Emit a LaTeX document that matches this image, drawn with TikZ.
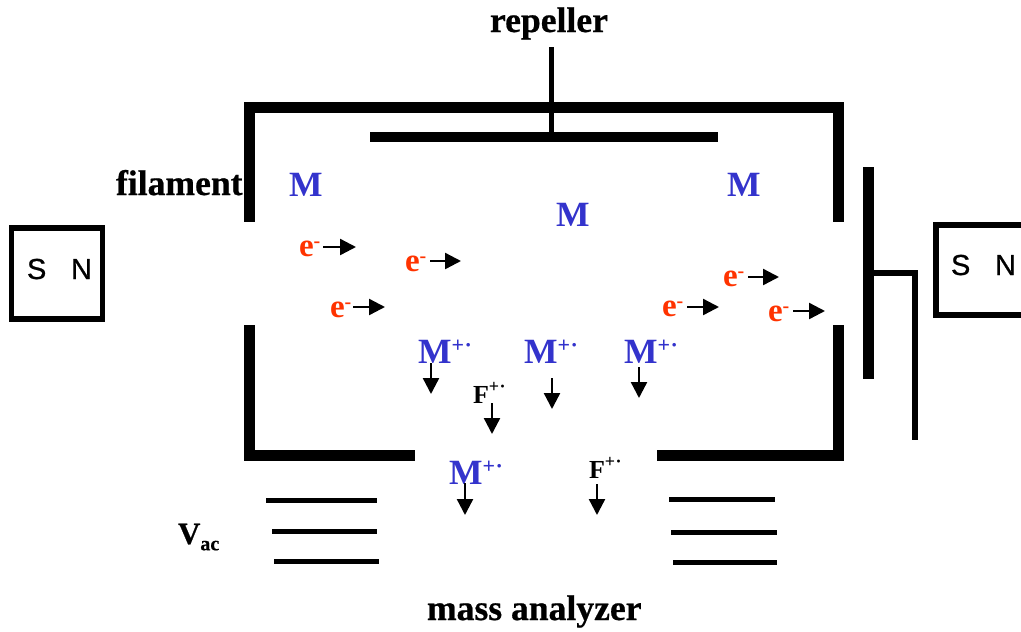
\documentclass[tikz,border=0pt]{standalone}
\usepackage{fontspec}
\setmainfont[BoldFeatures={FakeBold=0.6}]{Liberation Serif}
\newfontfamily\plainserif{Liberation Serif}
\newfontfamily\magfont[FakeBold=0.8]{Liberation Sans}
\usetikzlibrary{arrows.meta}
\definecolor{ionblue}{RGB}{51,51,204}
\definecolor{elecred}{RGB}{255,51,0}
\newcommand{\fsz}[1]{\fontsize{#1}{#1}\selectfont}
\newcommand{\ionsup}{\raisebox{0.3em}{\fsz{22}\textbf{+}\hspace{0.5pt}\raisebox{-0.02em}{\textbf{·}}}}
\newcommand{\fsup}{\raisebox{0.42em}{\fsz{18}\textbf{+}\hspace{0.5pt}\raisebox{-0.02em}{\textbf{·}}}}
\tikzset{
  x=1pt,y=-1pt,
  wall/.style={line width=11pt,line cap=butt,line join=miter},
  plate/.style={line width=5pt,line cap=butt},
  wire/.style={line width=6pt,line join=miter},
  magnet/.style={line width=5.5pt,line join=miter},
  fly/.style={line width=2.4pt,-{Triangle[length=16pt,width=16pt]}},
  txt/.style={anchor=base west,inner sep=0pt,outer sep=0pt},
  lab/.style={txt,font=\fsz{35.6}\bfseries},
  molec/.style={txt,font=\fsz{35.5}\plainserif\bfseries,text=ionblue},
  frag/.style={txt,font=\fsz{26}\plainserif\bfseries},
  elec/.style={txt,font=\fsz{33}\plainserif\bfseries,text=elecred},
  pole/.style={txt,font=\fsz{29}\magfont},
}
\begin{document}
\begin{tikzpicture}
\useasboundingbox (0,0) rectangle (1021,632);
% ionisation chamber
\draw[wall] (249,221.7) -- (249,107) -- (838.5,107) -- (838.5,221.7);
\draw[wall] (249,325) -- (249,455) -- (415,455);
\draw[wall] (657,455) -- (838.5,455) -- (838.5,325);
% repeller
\coordinate (stemtop) at (551,47);
\coordinate (stemfoot) at (551,137);
\draw[line width=10pt] (370,137) -- (718,137);
\draw[line width=5pt] (stemtop) -- (stemfoot);
% collector
\draw[line width=11pt] (868.5,167) -- (868.5,379);
\draw[wire] (874,273) -- (915,273) -- (915,440);
% magnets
\draw[magnet] (11.5,228) rectangle (102.5,319);
\draw[line width=6pt,line join=miter] (1021,224.5) -- (936,224.5) -- (936,315) -- (1021,315);
\node[pole] (s1) at (27,279) {S};
\node[pole] (n1) at (71,279) {N};
\node[pole] (s2) at (951,275) {S};
\node[pole] (n2) at (995,275) {N};
% accelerating plates
\draw[plate] (266,500) -- (377,500);
\draw[plate] (272,531) -- (377,531);
\draw[plate] (274,561) -- (379,561);
\draw[plate] (669,499) -- (775,499);
\draw[plate] (671,532) -- (777,532);
\draw[plate] (673,562) -- (777,562);
% labels
\node[lab] (repeller) at (490,32) {repeller};
\node[lab] (filament) at (116,195) {filament};
\node[lab] (analyzer) at (427,620) {mass analyzer};
\node[txt,font=\fsz{31}\bfseries] (vac) at (178,544) {V\raisebox{-0.2em}{\fsz{20}ac}};
% neutral molecules
\node[molec] (m1) at (289,196) {M};
\node[molec] (m2) at (556,226) {M};
\node[molec] (m3) at (727,196) {M};
% electrons
\newcommand{\emin}{\raisebox{0.26em}{\fsz{20}-}}
\node[elec] (e1) at (299,256) {e\emin};
\node[elec] (e2) at (405,271) {e\emin};
\node[elec] (e3) at (330,317) {e\emin};
\node[elec] (e4) at (662,316) {e\emin};
\node[elec] (e5) at (723,286) {e\emin};
\node[elec] (e6) at (768,321) {e\emin};
\foreach \n/\sx/\ex/\yy in {1/323/356/247,2/430/461/261,3/353/385/307,4/687/719/307,5/748/779/277,6/793/825/311}{
  \coordinate (es\n) at (\sx,\yy);
  \coordinate (ee\n) at (\ex,\yy);
  \draw[fly] (es\n) -- (ee\n);
}
% ions
\node[molec] (i1) at (418,363) {M\ionsup};
\node[molec] (i2) at (524,363) {M\ionsup};
\node[molec] (i3) at (624,363) {M\ionsup};
\node[molec] (i4) at (449,484) {M\ionsup};
\node[frag] (f1) at (473,403) {F\fsup};
\node[frag] (f2) at (589,478) {F\fsup};
\foreach \n/\xx/\sy/\ey in {1/431/363/394,2/552/378/409,3/639/367/398,4/492/403/434,5/465/483/515,6/597/484/515}{
  \coordinate (ds\n) at (\xx,\sy);
  \coordinate (de\n) at (\xx,\ey);
  \draw[fly] (ds\n) -- (de\n);
}
\end{tikzpicture}
\end{document}
